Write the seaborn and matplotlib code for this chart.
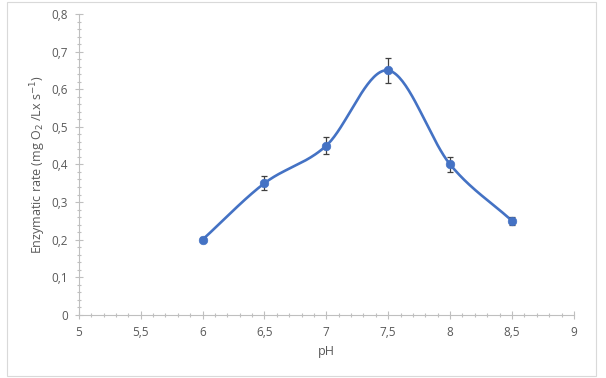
import numpy as np
import pandas as pd
import seaborn as sns
import matplotlib
matplotlib.use("Agg")
import matplotlib.pyplot as plt
from matplotlib.ticker import MultipleLocator, FuncFormatter
from matplotlib.patches import Rectangle

ph = [6.0, 6.5, 7.0, 7.5, 8.0, 8.5]
rate = [0.20, 0.35, 0.45, 0.65, 0.40, 0.25]
err = [0.006, 0.018, 0.022, 0.033, 0.020, 0.010]

sns.set_theme(style="white")
plt.rcParams['font.family'] = ['Open Sans', 'DejaVu Sans']

def catmull_rom(x, y, n=40):
    x = np.asarray(x, float); y = np.asarray(y, float)
    px = np.concatenate([[2*x[0]-x[1]], x, [2*x[-1]-x[-2]]])
    py = np.concatenate([[2*y[0]-y[1]], y, [2*y[-1]-y[-2]]])
    xs, ys = [], []
    t = np.linspace(0, 1, n)
    for i in range(1, len(px)-2):
        p0, p1, p2, p3 = [np.array([px[j], py[j]]) for j in range(i-1, i+3)]
        tt = t[:, None]
        pts = 0.5*((2*p1) + (-p0+p2)*tt + (2*p0-5*p1+4*p2-p3)*tt**2 + (-p0+3*p1-3*p2+p3)*tt**3)
        xs.extend(pts[:, 0]); ys.extend(pts[:, 1])
    return np.array(xs), np.array(ys)

sx, sy = catmull_rom(ph, rate)
curve = pd.DataFrame({"pH": sx, "rate": sy})

fig = plt.figure(figsize=(6.06, 3.78), dpi=100)
ax = fig.add_axes([0.130, 0.167, 0.817, 0.796])

blue = "#4472C4"
sns.lineplot(data=curve, x="pH", y="rate", sort=False, estimator=None, ax=ax,
             color=blue, lw=1.9)
ax.errorbar(ph, rate, yerr=err, fmt="none", ecolor="#404040", elinewidth=0.9,
            capsize=2.5, capthick=0.9, zorder=3)
sns.scatterplot(x=ph, y=rate, ax=ax, color=blue, s=38, edgecolor=blue, zorder=4)

ax.set_xlim(5, 9)
ax.set_ylim(0, 0.8)
ax.xaxis.set_major_locator(MultipleLocator(0.5))
ax.xaxis.set_minor_locator(MultipleLocator(0.1))
ax.yaxis.set_major_locator(MultipleLocator(0.1))
ax.yaxis.set_minor_locator(MultipleLocator(0.02))
fmt = FuncFormatter(lambda v, p: ("%g" % round(v, 2)).replace(".", ","))
ax.xaxis.set_major_formatter(fmt)
ax.yaxis.set_major_formatter(fmt)

for s in ["top", "right"]:
    ax.spines[s].set_visible(False)
for s in ["left", "bottom"]:
    ax.spines[s].set_color("#bfbfbf")
    ax.spines[s].set_linewidth(0.8)
ax.tick_params(which="both", bottom=True, left=True, direction="inout", color="#bfbfbf",
               labelcolor="#595959", labelsize=8.5, width=0.8)
ax.tick_params(which="major", length=6, pad=5)
ax.tick_params(which="minor", length=3)

ax.set_xlabel("pH", color="#595959", fontsize=9, labelpad=4)
ax.set_ylabel("Enzymatic rate (mg O$_2$ /Lx s$^{-1}$)", color="#595959", fontsize=9, labelpad=2)
ax.grid(False)

fig.patches.append(Rectangle((0.012, 0.005), 0.972, 0.99, transform=fig.transFigure,
                             fill=False, edgecolor="#d9d9d9", lw=0.8))

fig.savefig("out.png", dpi=100)
